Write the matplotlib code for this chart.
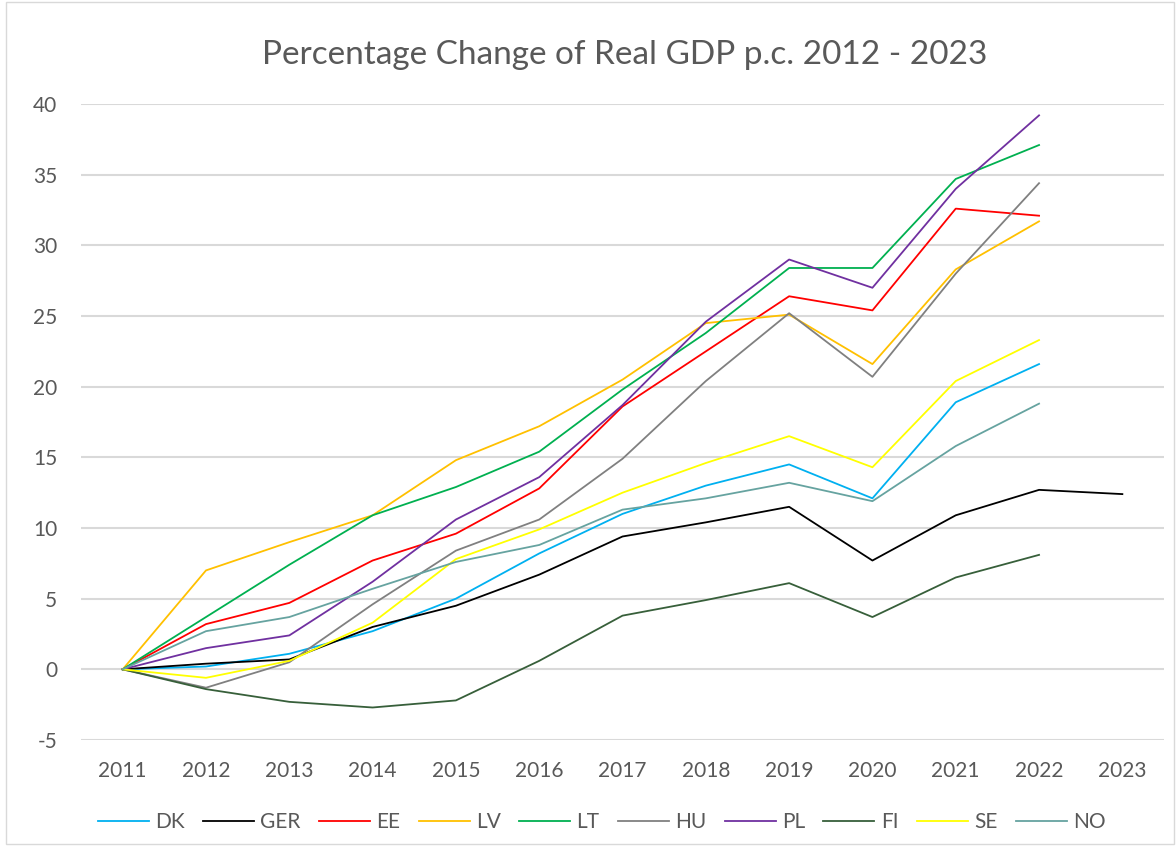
import matplotlib.pyplot as plt

plt.rcParams['font.family'] = ['Lato', 'DejaVu Sans']
plt.rcParams['axes.unicode_minus'] = False

years = [2011, 2012, 2013, 2014, 2015, 2016, 2017, 2018, 2019, 2020, 2021, 2022, 2023]

# percentage change since 2011
DK = [0, 0.2, 1.1, 2.7, 5.0, 8.2, 11.0, 13.0, 14.5, 12.1, 18.9, 21.6]
GER = [0, 0.4, 0.7, 3.0, 4.5, 6.7, 9.4, 10.4, 11.5, 7.7, 10.9, 12.7, 12.4]
EE = [0, 3.2, 4.7, 7.7, 9.6, 12.8, 18.6, 22.5, 26.4, 25.4, 32.6, 32.1]
LV = [0, 7.0, 9.0, 10.9, 14.8, 17.2, 20.5, 24.5, 25.1, 21.6, 28.3, 31.7]
LT = [0, 3.7, 7.4, 10.9, 12.9, 15.4, 19.8, 23.8, 28.4, 28.4, 34.7, 37.1]
HU = [0, -1.3, 0.5, 4.6, 8.4, 10.6, 14.9, 20.4, 25.2, 20.7, 28.0, 34.4]
PL = [0, 1.5, 2.4, 6.2, 10.6, 13.6, 18.7, 24.6, 29.0, 27.0, 34.0, 39.2]
FI = [0, -1.4, -2.3, -2.7, -2.2, 0.6, 3.8, 4.9, 6.1, 3.7, 6.5, 8.1]
SE = [0, -0.6, 0.6, 3.3, 7.8, 9.9, 12.5, 14.6, 16.5, 14.3, 20.4, 23.3]
NO = [0, 2.7, 3.7, 5.7, 7.6, 8.8, 11.3, 12.1, 13.2, 11.9, 15.8, 18.8]

names = ['DK', 'GER', 'EE', 'LV', 'LT', 'HU', 'PL', 'FI', 'SE', 'NO']
series = [DK, GER, EE, LV, LT, HU, PL, FI, SE, NO]
colors = ['#00B0F0', '#000000', '#FF0000', '#FFC000', '#00B050',
          '#808080', '#7030A0', '#375F3A', '#FFFF00', '#66A3A0']

fig = plt.figure(figsize=(11.76, 8.46), dpi=100)
ax = fig.add_axes([0.0689, 0.1253, 0.9209, 0.7517])

pos = list(range(len(years)))
for name, vals, c in zip(names, series, colors):
    ax.plot(pos[:len(vals)], vals, color=c, lw=1.3, label=name)

ax.set_xlim(-0.5, len(years) - 0.5)
ax.set_ylim(-5, 40)
ax.set_xticks(pos)
ax.set_xticklabels([str(y) for y in years])
ax.set_yticks(range(-5, 41, 5))
ax.yaxis.grid(True, color='#D9D9D9', lw=1.5)
ax.set_axisbelow(True)
for s in ax.spines.values():
    s.set_visible(False)
ax.tick_params(length=0, labelsize=15, colors='#595959')
ax.tick_params(axis='x', pad=15)
ax.tick_params(axis='y', pad=17)

fig.text(0.531, 0.935, 'Percentage Change of Real GDP p.c. 2012 - 2023',
         ha='center', va='center', fontsize=24, color='#595959')

fig.legend(loc='center', bbox_to_anchor=(0.5115, 0.028), ncol=10, frameon=False,
           fontsize=15, labelcolor='#595959', handlelength=2.45,
           columnspacing=0.88, handletextpad=0.3)

# thin border around the chart area
fig.patches.append(plt.Rectangle((0.005, 0.002), 0.993, 0.996, transform=fig.transFigure,
                                 fill=False, edgecolor='#D9D9D9', lw=1))

fig.savefig('out.png', dpi=100)
